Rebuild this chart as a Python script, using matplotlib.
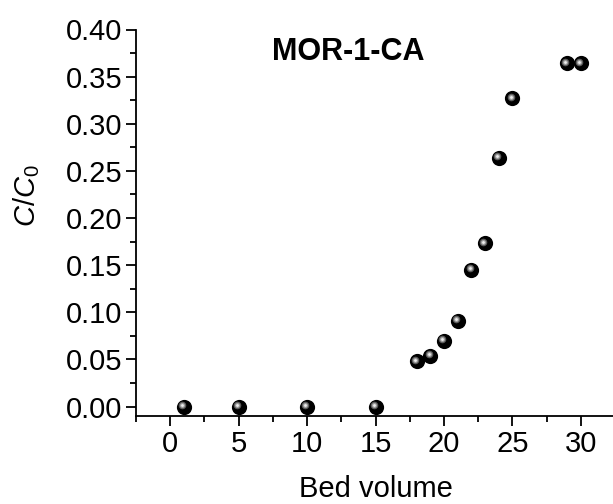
import numpy as np
import matplotlib.pyplot as plt
from matplotlib import transforms
from matplotlib.ticker import MultipleLocator

plt.rcParams['font.family'] = ['Liberation Sans', 'DejaVu Sans']
plt.rcParams['mathtext.fontset'] = 'custom'
plt.rcParams['mathtext.it'] = 'Liberation Sans:italic'
plt.rcParams['mathtext.rm'] = 'Liberation Sans'

# data
bed_volume = [1, 5, 10, 15, 18, 19, 20, 21, 22, 23, 24, 25, 29, 30]
c_ratio = [0.0, 0.0, 0.0, 0.0, 0.048, 0.054, 0.070, 0.091, 0.145, 0.173,
           0.264, 0.327, 0.364, 0.364]

fig = plt.figure(figsize=(6.13, 5.04), dpi=100)
ax = fig.add_axes([136/613, 1-416/504, 479/613, (416-29.5)/504])

# shaded "ball" markers: black disc + grey glow + white highlight
ax.scatter(bed_volume, c_ratio, s=120, color='black', zorder=3, clip_on=False,
           linewidths=0)
glow = transforms.offset_copy(ax.transData, fig=fig, x=-1.2, y=1.2, units='points')
ax.scatter(bed_volume, c_ratio, s=30, color='#5a5a5a', zorder=4,
           transform=glow, clip_on=False, linewidths=0)
ax.scatter(bed_volume, c_ratio, s=14, color='#a0a0a0', zorder=5,
           transform=glow, clip_on=False, linewidths=0)
ax.scatter(bed_volume, c_ratio, s=4, color='#eeeeee', zorder=6,
           transform=glow, clip_on=False, linewidths=0)

ax.set_xlim(-2.5, 32.5)
ax.set_ylim(-0.01, 0.40)
ax.xaxis.set_major_locator(MultipleLocator(5))
ax.xaxis.set_minor_locator(MultipleLocator(2.5))
ax.yaxis.set_major_locator(MultipleLocator(0.05))
ax.yaxis.set_minor_locator(MultipleLocator(0.025))
ax.yaxis.set_major_formatter(plt.FormatStrFormatter('%.2f'))

for side in ['top', 'right']:
    ax.spines[side].set_visible(False)
for side in ['left', 'bottom']:
    ax.spines[side].set_linewidth(1.3)
ax.tick_params(which='major', direction='out', length=7, width=1.3,
               labelsize=21, pad=3)
ax.tick_params(which='minor', direction='out', length=4, width=1.3)

ax.set_xlabel('Bed volume', fontsize=21)
ax.xaxis.set_label_coords(0.5, -0.152)
ax.set_ylabel('$C/C_0$', fontsize=21)
ax.yaxis.set_label_coords(-0.197, 0.57)

ax.text(0.4426, 0.9405, 'MOR-1-CA', transform=ax.transAxes, fontsize=22,
        fontweight='bold', ha='center', va='center')

fig.savefig('out.png', dpi=100)
